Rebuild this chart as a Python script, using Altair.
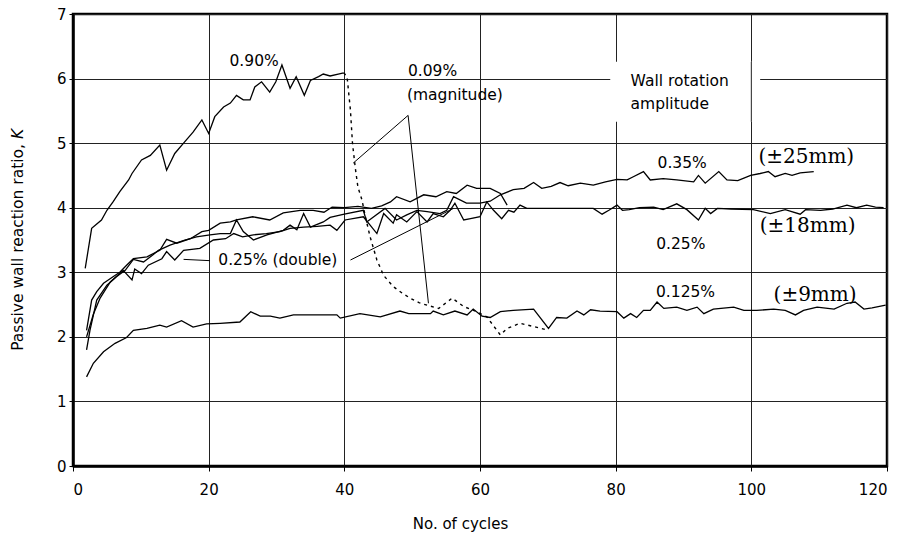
import altair as alt
import pandas as pd

SANS = "DejaVu Sans"
SERIF = "DejaVu Serif"

# ---- measured series: number of cycles vs passive wall reaction ratio K ----
# 0.90% wall rotation amplitude
cyc_090 = [1.8, 2.75, 4.2, 5.0, 5.9, 6.9, 8.2, 8.7, 10.1, 11.4, 12.8, 13.8, 15.0, 16.3, 17.7,
           19.0, 20.0, 20.9, 22.2, 23.2, 24.1, 25.1, 26.1, 26.8, 27.8, 29.0, 29.9, 30.8,
           32.0, 32.9, 34.1, 35.0, 36.2, 36.9, 37.9, 39.1, 39.9]
k_090 = [3.06, 3.68, 3.81, 3.96, 4.09, 4.25, 4.43, 4.53, 4.74, 4.81, 4.97, 4.58, 4.84, 5.0, 5.17,
         5.36, 5.15, 5.41, 5.56, 5.62, 5.74, 5.67, 5.67, 5.87, 5.95, 5.79, 5.95, 6.21,
         5.85, 6.03, 5.74, 5.97, 6.03, 6.07, 6.04, 6.07, 6.09]

# 0.09% magnitude stage (dotted), continuing the 0.90% test
cyc_009 = [39.9, 40.4, 40.9, 41.2, 41.6, 42.0, 42.6, 43.1, 43.8, 44.8, 45.8, 47.2, 48.5, 49.7,
           51.0, 52.2, 53.9, 55.9, 57.6, 59.5, 61.0, 63.0, 64.0, 65.9, 67.9, 70.1]
k_009 = [6.09, 6.03, 5.51, 5.0, 4.63, 4.32, 4.12, 3.86, 3.55, 3.19, 2.95, 2.78, 2.68, 2.6,
         2.53, 2.49, 2.44, 2.6, 2.47, 2.39, 2.31, 2.03, 2.13, 2.21, 2.16, 2.1]

# 0.25% (double)
cyc_025d = [2.0, 2.75, 3.5, 4.5, 5.9, 6.9, 7.9, 8.9, 10.9, 12.8, 13.8, 15.3, 17.3, 19.0, 20.0,
            21.7, 23.2, 24.1, 26.5, 29.0, 31.0, 33.5, 35.4, 37.0, 38.2, 40.0, 42.0, 44.0, 45.5,
            46.8, 47.7, 49.7, 51.7, 53.5, 55.1, 56.5, 58.1, 59.5, 61.5, 63.0, 64.0]
k_025d = [2.1, 2.57, 2.7, 2.83, 2.93, 3.0, 3.11, 3.21, 3.24, 3.34, 3.51, 3.45, 3.52, 3.63, 3.65,
          3.76, 3.78, 3.81, 3.86, 3.81, 3.92, 3.96, 3.96, 3.93, 4.01, 4.0, 4.02, 3.99, 4.03,
          4.09, 4.17, 4.09, 4.2, 4.17, 4.25, 4.22, 4.35, 4.3, 4.3, 4.22, 4.04]

# 0.35%
cyc_035 = [2.0, 2.5, 3.5, 5.0, 6.4, 7.7, 8.9, 10.4, 11.8, 12.6, 14.3, 16.5, 18.2, 20.2, 21.7,
           23.2, 24.1, 25.1, 26.6, 28.6, 31.0, 32.0, 33.0, 34.0, 35.0, 36.9, 37.9, 40.0, 42.8,
           43.3, 46.0, 47.7, 49.2, 50.7, 52.2, 54.1, 55.1, 56.1, 58.0, 60.0, 61.5, 63.0, 64.9,
           66.5, 67.9, 69.1, 70.5, 71.8, 73.0, 74.8, 76.7, 78.5, 80.2, 81.7, 82.6, 84.1, 85.1,
           87.0, 89.0, 91.5, 92.2, 93.2, 95.2, 96.4, 98.0, 99.9, 101.3, 102.5, 103.5, 105.0,
           106.0, 107.2, 109.2]
k_035 = [1.8, 2.1, 2.57, 2.8, 2.93, 3.03, 3.2, 3.16, 3.27, 3.34, 3.42, 3.5, 3.55, 3.58, 3.6,
         3.6, 3.81, 3.63, 3.5, 3.58, 3.65, 3.73, 3.66, 3.91, 3.7, 3.78, 3.85, 3.9, 3.96,
         3.78, 3.99, 3.81, 3.89, 3.96, 3.94, 3.91, 3.96, 4.17, 4.07, 4.07, 4.1, 4.2, 4.28,
         4.3, 4.39, 4.3, 4.33, 4.39, 4.34, 4.38, 4.35, 4.4, 4.44, 4.43, 4.48, 4.56, 4.43,
         4.45, 4.43, 4.4, 4.5, 4.38, 4.56, 4.43, 4.42, 4.5, 4.53, 4.56, 4.48, 4.53,
         4.5, 4.54, 4.56]

# 0.25%
cyc_025 = [2.0, 3.0, 4.0, 5.5, 7.4, 8.7, 9.1, 10.1, 11.1, 13.1, 13.8, 15.0, 16.3, 18.7, 20.7,
           22.5, 23.7, 25.0, 26.6, 28.5, 30.5, 32.0, 34.0, 36.0, 37.9, 38.9, 40.1, 42.8, 43.8,
           44.8, 45.8, 47.2, 47.7, 49.2, 50.7, 52.2, 53.1, 54.6, 55.6, 56.3, 57.6, 58.6, 60.0,
           61.0, 62.0, 63.2, 64.2, 65.0, 65.9, 66.9, 70.0, 73.0, 76.7, 78.0, 79.0, 80.2, 81.0,
           82.0, 83.5, 85.6, 87.0, 89.0, 90.5, 92.2, 93.2, 94.0, 95.0, 97.0, 100.3, 102.8,
           105.0, 107.2, 108.0, 110.2, 112.0, 114.1, 115.5, 117.0, 118.3, 119.5]
k_025 = [2.0, 2.35, 2.6, 2.85, 3.03, 2.88, 3.05, 2.98, 3.11, 3.21, 3.32, 3.19, 3.34, 3.37, 3.5,
         3.52, 3.6, 3.55, 3.58, 3.6, 3.63, 3.68, 3.7, 3.71, 3.73, 3.65, 3.81, 3.86, 3.73,
         3.6, 3.91, 3.76, 3.89, 3.78, 3.94, 3.78, 3.91, 3.86, 3.96, 4.07, 3.81, 3.83, 3.86,
         4.09, 3.96, 3.83, 3.96, 3.93, 4.04, 3.99, 3.99, 3.99, 3.99, 3.9, 3.96, 4.04, 3.96,
         3.97, 4.0, 4.01, 3.97, 4.06, 3.97, 3.81, 3.99, 3.91, 3.99, 3.98, 3.97, 3.91,
         3.97, 3.9, 3.97, 3.96, 3.98, 4.04, 4.0, 4.04, 4.01, 4.0]

# 0.125%
cyc_0125 = [2.0, 3.0, 4.5, 6.2, 7.9, 8.9, 10.9, 12.8, 13.8, 16.0, 17.7, 19.7, 21.7, 24.6, 26.2,
            27.6, 29.1, 30.5, 32.5, 38.9, 39.4, 42.3, 45.3, 48.2, 49.5, 52.7, 53.1, 54.6, 56.3,
            58.1, 59.0, 60.3, 61.5, 63.0, 64.9, 67.9, 70.1, 71.3, 72.8, 74.3, 75.3, 76.3, 77.7,
            80.2, 81.2, 82.2, 83.1, 84.1, 85.1, 86.1, 87.1, 89.0, 90.5, 92.0, 93.0, 94.4, 97.4,
            98.9, 100.8, 103.3, 105.0, 106.5, 107.7, 109.7, 112.2, 114.1, 115.3, 116.6, 117.8,
            119.8]
k_0125 = [1.38, 1.59, 1.77, 1.9, 1.99, 2.1, 2.13, 2.18, 2.15, 2.25, 2.15, 2.2, 2.21, 2.23, 2.39,
          2.32, 2.32, 2.29, 2.34, 2.34, 2.29, 2.36, 2.31, 2.4, 2.36, 2.36, 2.4, 2.34, 2.4,
          2.34, 2.43, 2.32, 2.3, 2.39, 2.41, 2.43, 2.13, 2.3, 2.29, 2.4, 2.34, 2.42, 2.4,
          2.39, 2.29, 2.36, 2.3, 2.41, 2.41, 2.54, 2.44, 2.46, 2.41, 2.46, 2.36, 2.43, 2.46,
          2.41, 2.41, 2.43, 2.41, 2.34, 2.41, 2.46, 2.43, 2.52, 2.54, 2.43, 2.45,
          2.49]

# ---- annotation leaders (cycles, K) ----
leader_group = ["dbl_left", "dbl_left", "dbl_right", "dbl_right", "mag", "mag", "mag"]
leader_cyc = [16.3, 20.2, 40.9, 56.1, 41.3, 49.4, 52.4]
leader_k = [3.20, 3.18, 3.19, 3.99, 4.69, 5.43, 2.52]

# ---- curve labels ----
label_text = ["0.90%", "0.09%", "(magnitude)", "0.35%", "0.25%", "0.125%", "0.25% (double)"]
label_cyc = [26.7, 53.0, 56.3, 89.8, 89.6, 90.3, 30.2]
label_k = [6.27, 6.11, 5.74, 4.70, 3.44, 2.69, 3.19]

legend_text = ["Wall rotation", "amplitude"]
legend_cyc = [82.2, 82.2]
legend_k = [5.97, 5.61]

mm_text = ["(\u00b125mm)", "(\u00b118mm)", "(\u00b19mm)"]
mm_cyc = [108.1, 108.3, 109.4]
mm_k = [4.78, 3.71, 2.65]


def series(name, xs, ks):
    return pd.DataFrame({"series": name, "cycles": xs, "K": ks, "seq": range(len(xs))})


solid = pd.concat([
    series("0.90%", cyc_090, k_090),
    series("0.25% (double)", cyc_025d, k_025d),
    series("0.35%", cyc_035, k_035),
    series("0.25%", cyc_025, k_025),
    series("0.125%", cyc_0125, k_0125),
], ignore_index=True)
dotted = series("0.09%", cyc_009, k_009)
leaders = pd.DataFrame({"grp": leader_group, "cycles": leader_cyc, "K": leader_k,
                        "seq": range(len(leader_cyc))})
labels = pd.DataFrame({"label": label_text, "cycles": label_cyc, "K": label_k})
legend = pd.DataFrame({"label": legend_text, "cycles": legend_cyc, "K": legend_k})
mm = pd.DataFrame({"label": mm_text, "cycles": mm_cyc, "K": mm_k})
box = pd.DataFrame({"cycles": [79.2], "cycles2": [101.3], "K": [5.33], "K2": [6.26]})

x_scale = alt.Scale(domain=[0, 120], nice=False)
y_scale = alt.Scale(domain=[0, 7], nice=False)

x_axis = alt.Axis(values=list(range(0, 121, 20)), title="No. of cycles",
                  labelPadding=11, titlePadding=19, titleX=387)
y_axis = alt.Axis(values=list(range(0, 8)), title=None, labelPadding=3, tickSize=4)


def X():
    return alt.X("cycles:Q", scale=x_scale, axis=x_axis)


def Y():
    return alt.Y("K:Q", scale=y_scale, axis=y_axis)


lines = alt.Chart(solid).mark_line(color="black", strokeWidth=1.3).encode(
    x=X(), y=Y(), detail="series:N", order="seq:Q",
)

dotted_line = alt.Chart(dotted).mark_line(
    color="black", strokeWidth=1.4, strokeDash=[3, 4]
).encode(x=X(), y=Y(), order="seq:Q")

leader_lines = alt.Chart(leaders).mark_line(color="black", strokeWidth=1.0).encode(
    x=X(), y=Y(), detail="grp:N", order="seq:Q"
)

legend_box = alt.Chart(box).mark_rect(color="white").encode(
    x=X(), x2="cycles2:Q", y=Y(), y2="K2:Q"
)
grid_patch = alt.Chart(box).mark_rule(color="#222", strokeWidth=1).encode(
    x=alt.datum(100, scale=x_scale), y=Y(), y2="K2:Q"
)

label_marks = alt.Chart(labels).mark_text(
    font=SANS, fontSize=15.5, color="black", align="center", baseline="middle"
).encode(x=X(), y=Y(), text="label:N")

legend_marks = alt.Chart(legend).mark_text(
    font=SANS, fontSize=15.5, color="black", align="left", baseline="middle"
).encode(x=X(), y=Y(), text="label:N")

mm_marks = alt.Chart(mm).mark_text(
    font=SERIF, fontSize=20, color="black", align="center", baseline="middle"
).encode(x=X(), y=Y(), text="label:N")

title_df = pd.DataFrame({"t": ["Passive wall reaction ratio,"]})
k_df = pd.DataFrame({"t": ["K"]})
y_title = alt.Chart(title_df).mark_text(
    font=SANS, fontSize=15.5, color="black", angle=270, align="right", baseline="middle"
).encode(x=alt.value(-55), y=alt.value(130), text="t:N")
y_title_k = alt.Chart(k_df).mark_text(
    font=SANS, fontSize=15.5, fontStyle="italic", color="black", angle=270,
    align="left", baseline="middle"
).encode(x=alt.value(-55), y=alt.value(125), text="t:N")

chart = alt.layer(
    lines, dotted_line, leader_lines, legend_box, grid_patch,
    label_marks, legend_marks, mm_marks, y_title, y_title_k
).properties(
    width=814, height=452,
    autosize=alt.AutoSizeParams(type="none"),
    padding={"left": 73, "top": 14, "right": 23, "bottom": 77},
).configure_view(
    stroke="black", strokeWidth=2.5
).configure_axis(
    labelFont=SANS, labelFontSize=15, labelColor="black",
    titleFont=SANS, titleFontSize=15, titleColor="black", titleFontWeight="normal",
    domainColor="black", domainWidth=2.5,
    tickColor="black", tickWidth=1, tickSize=5,
    gridColor="#222", gridWidth=1, gridOpacity=1,
)

chart.save("out.html", embed_options={"renderer": "svg", "actions": False})
